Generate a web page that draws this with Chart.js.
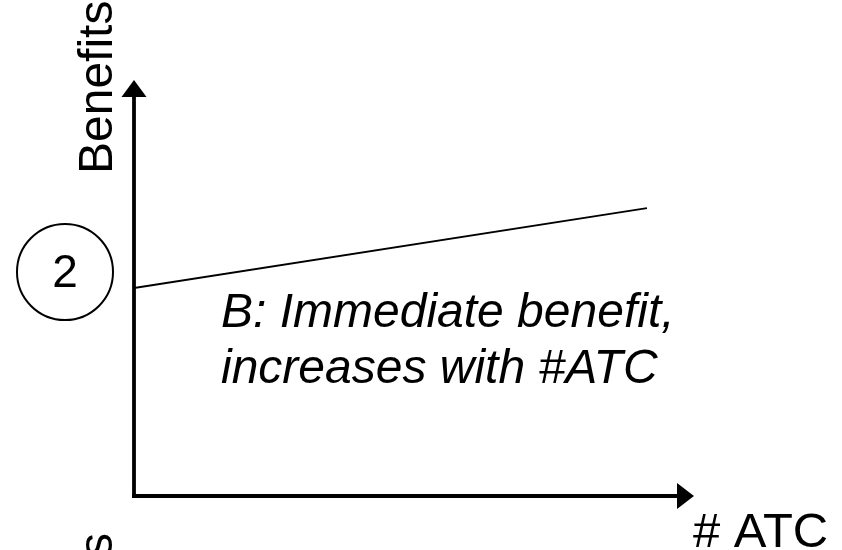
<!DOCTYPE html>
<html>
<head>
<meta charset="utf-8">
<script src="https://cdn.jsdelivr.net/npm/chart.js@4/dist/chart.umd.min.js"></script>
<style>
  html, body { margin: 0; padding: 0; background: #fff; }
  #wrap { width: 842px; height: 550px; }
</style>
</head>
<body>
<div id="wrap"><canvas id="chartBenefit" width="842" height="550"></canvas></div>
<script>
// datos
const atc = [0, 9.16];
const beneficio = [5.0, 6.92];
const ejeX = { min: 0, max: 10 };
const ejeY = { min: 0, max: 10 };

const tituloY = 'Benefits';
const tituloYAbajo = 'Costs';
const tituloX = '# ATC';
const nota = ['B: Immediate benefit,', 'increases with #ATC'];
const marca = '2';

const fuente = '"Liberation Sans", Arial, sans-serif';

const ejesConFlecha = {
    id: 'ejesConFlecha',
    afterDraw(chart) {
        const { ctx, scales } = chart;
        const x0 = scales.x.getPixelForValue(ejeX.min);
        const x1 = scales.x.getPixelForValue(ejeX.max);
        const y0 = scales.y.getPixelForValue(ejeY.min);
        const y1 = scales.y.getPixelForValue(ejeY.max);

        ctx.save();
        ctx.strokeStyle = '#000';
        ctx.fillStyle = '#000';
        ctx.lineWidth = 3.8;

        // eje y
        ctx.beginPath();
        ctx.moveTo(x0, y0 + 1.9);
        ctx.lineTo(x0, y1 + 14);
        ctx.stroke();
        ctx.beginPath();
        ctx.moveTo(x0, y1);
        ctx.lineTo(x0 - 12.5, y1 + 17);
        ctx.lineTo(x0 + 12.5, y1 + 17);
        ctx.closePath();
        ctx.fill();

        // eje x
        ctx.beginPath();
        ctx.moveTo(x0 - 1.9, y0);
        ctx.lineTo(x1 - 14, y0);
        ctx.stroke();
        ctx.beginPath();
        ctx.moveTo(x1, y0);
        ctx.lineTo(x1 - 17, y0 - 13);
        ctx.lineTo(x1 - 17, y0 + 13);
        ctx.closePath();
        ctx.fill();

        // titulos
        ctx.font = '48px ' + fuente;
        ctx.textBaseline = 'alphabetic';
        ctx.save();
        ctx.translate(x0 - 22, y1 + 94);
        ctx.rotate(-Math.PI / 2);
        ctx.textAlign = 'left';
        ctx.fillText(tituloY, 0, 0);
        ctx.restore();

        ctx.save();
        ctx.translate(x0 - 22, y0 + 37);
        ctx.rotate(-Math.PI / 2);
        ctx.textAlign = 'right';
        ctx.fillText(tituloYAbajo, 0, 0);
        ctx.restore();

        ctx.font = '49px ' + fuente;
        ctx.textAlign = 'left';
        ctx.fillText(tituloX, x1 - 1, y0 + 51);

        // nota en cursiva
        ctx.font = 'italic 48px ' + fuente;
        ctx.fillText(nota[0], x0 + 87, 327);
        ctx.fillText(nota[1], x0 + 87, 383);

        // circulo con numero
        const cx = x0 - 69;
        const cy = 272;
        ctx.lineWidth = 2;
        ctx.beginPath();
        ctx.arc(cx, cy, 48, 0, Math.PI * 2);
        ctx.stroke();
        ctx.font = '46px ' + fuente;
        ctx.textAlign = 'center';
        ctx.textBaseline = 'middle';
        ctx.fillText(marca, cx, cy + 2);
        ctx.restore();
    }
};

new Chart(document.getElementById('chartBenefit'), {
    type: 'line',
    data: {
        datasets: [{
            label: 'Benefits',
            data: atc.map((v, i) => ({ x: v, y: beneficio[i] })),
            borderColor: '#000',
            borderWidth: 2,
            pointRadius: 0,
            fill: false,
            tension: 0
        }]
    },
    options: {
        responsive: false,
        animation: false,
        layout: {
            padding: { left: 134, right: 148, top: 80, bottom: 54 }
        },
        plugins: {
            legend: { display: false },
            tooltip: { enabled: false }
        },
        scales: {
            x: {
                type: 'linear',
                min: ejeX.min,
                max: ejeX.max,
                display: false
            },
            y: {
                min: ejeY.min,
                max: ejeY.max,
                display: false
            }
        }
    },
    plugins: [ejesConFlecha]
});
</script>
</body>
</html>
